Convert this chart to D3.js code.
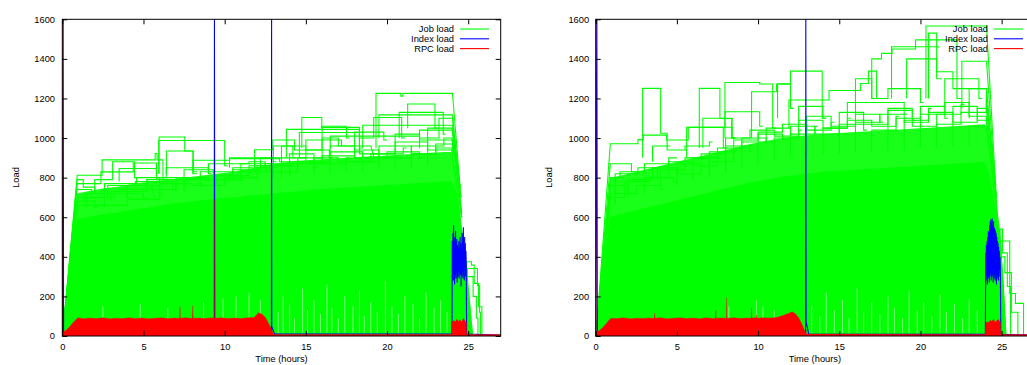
<!DOCTYPE html>
<html>
<head>
<meta charset="utf-8">
<script src="https://cdn.jsdelivr.net/npm/d3@7"></script>
<style>
  html, body { margin: 0; padding: 0; background: #fff; overflow: hidden; }
  svg { display: block; font-family: "Liberation Sans", Arial, Helvetica, sans-serif; }
</style>
</head>
<body>
<svg id="chart" width="1027" height="365"></svg>
<script>
// ---- axis ticks and legend ----
const xTicks = [0, 5, 10, 15, 20, 25];
const yTicks = [0, 200, 400, 600, 800, 1000, 1200, 1400, 1600];
const seriesNames = ["Job load", "Index load", "RPC load"];
const axisLabelX = "Time (hours)";
const axisLabelY = "Load";

// ---- run 1 (left) : job load ----
// solid core of overlapping job traces (upper boundary)
const jobCoreLeft = [[0.05,0],[0.85,590],[1.5,600],[2.5,615],[3.5,625],[4.5,640],[5.5,650],[6.5,665],[7.5,675],[8.5,685],[9.5,695],[10.5,700],[11.5,710],[12.5,715],[13.5,725],[14.5,730],[15.5,740],[16.5,745],[17.5,750],[18.5,755],[19.5,760],[20.5,765],[21.5,770],[22.5,775],[23.5,780],[23.95,780],[24.3,720],[24.7,470],[25.0,250],[25.3,0]];
// upper edge of the densely interleaved traces above the core
const jobDenseLeft = [[0.05,0],[0.88,720],[1.5,730],[2.5,745],[3.5,755],[4.5,770],[5.5,780],[6.5,790],[7.5,800],[8.5,810],[9.5,820],[10.5,830],[11.5,845],[12.5,860],[13.5,875],[14.5,885],[15.5,890],[16.5,895],[17.5,900],[18.5,905],[19.5,910],[20.5,915],[21.5,920],[22.5,925],[23.5,930],[23.95,930],[24.25,820],[24.6,560],[25.0,280],[25.3,0]];
// dense traces just above the core
const jobBandLeft = [
  [[0.05,30],[0.9,700],[3.2,720],[5.0,700],[5.2,700]],
  [[0.05,30],[0.9,680],[2.0,650],[2.2,650]],
  [[0.05,30],[0.9,740],[1.8,700],[2.8,760],[4.0,700],[4.2,700]],
  [[0.05,30],[0.9,660],[4.0,690],[6.0,720],[6.2,720]],
  [[1.5,640],[1.5,720],[3.5,740],[5.5,760],[5.7,700]],
  [[2.6,650],[2.6,770],[4.5,780],[6.8,740],[7.0,740]],
  [[3.0,680],[3.0,730],[5.2,790],[7.5,760],[7.7,760]],
  [[4.0,700],[4.0,760],[6.0,800],[8.5,770],[8.7,770]],
  [[5.0,700],[5.0,740],[7.0,790],[9.5,810],[11.0,790],[11.2,790]],
  [[6.0,720],[6.0,770],[8.0,760],[10.0,800],[12.0,820],[12.2,820]],
  [[7.0,720],[7.0,800],[9.0,790],[11.0,830],[13.0,850],[13.2,850]],
  [[7.5,720],[7.5,840],[9.3,800],[9.5,800]],
  [[8.5,750],[8.5,830],[10.5,850],[12.5,870],[14.0,860],[14.2,860]],
  [[9.5,760],[9.5,810],[11.5,860],[13.5,880],[15.5,850],[15.7,850]],
  [[10.5,780],[10.5,840],[12.2,900],[13.0,880],[13.2,880]],
  [[11.0,780],[11.0,870],[12.8,830],[14.5,900],[16.0,880],[16.2,880]],
  [[12.0,790],[12.0,860],[14.0,920],[15.5,870],[17.5,900],[17.7,900]],
  [[13.0,800],[13.0,900],[15.0,880],[16.5,930],[18.5,900],[18.7,900]],
  [[14.0,810],[14.0,870],[16.0,910],[18.0,940],[19.5,900],[19.7,900]],
  [[15.5,820],[15.5,900],[17.0,880],[19.0,920],[21.0,950],[21.2,950]],
  [[16.5,820],[16.5,960],[18.0,900],[20.0,930],[22.0,900],[22.2,900]],
  [[17.5,830],[17.5,880],[19.5,960],[21.5,920],[23.0,970],[24.0,970],[24.5,700]],
  [[18.5,830],[18.5,920],[20.5,980],[22.5,940],[24.0,940],[24.6,600]],
  [[19.5,840],[19.5,900],[21.5,960],[23.5,1000],[24.0,1000],[24.5,750]],
  [[20.5,840],[20.5,1020],[22.0,990],[24.0,990],[24.55,700]],
  [[21.5,850],[21.5,920],[23.0,950],[24.0,920],[24.6,600]],
  [[22.5,860],[22.5,1050],[24.0,1050],[24.5,750]],
  [[13.5,800],[13.5,960],[15.0,940],[16.0,1000],[17.0,960],[17.2,960]],
  [[16.0,900],[16.0,1060],[17.5,1000],[17.7,1000]],
  [[18.0,900],[18.0,1030],[19.8,990],[20.0,990]]
];
// job traces that stand out above the band
const jobStepsLeft = [
  [[0.05,30],[0.92,812],[2.45,890],[5.72,922],[5.84,890],[6.2,780],[6.4,780]],
  [[0.05,30],[0.92,790],[1.29,752],[2.0,720],[2.3,720]],
  [[0.05,30],[0.92,770],[2.38,829],[4.37,874],[5.8,800],[6.0,800]],
  [[3.5,780],[3.5,846],[5.8,790],[6.0,790]],
  [[5.96,820],[5.96,1005],[7.54,935],[8.06,830],[8.3,830]],
  [[5.94,820],[5.94,988],[10.0,860],[10.2,860]],
  [[6.41,820],[6.41,935],[8.05,820],[8.3,820]],
  [[8.05,820],[8.05,888],[10.3,896],[13.38,880],[13.6,880]],
  [[11.84,850],[11.84,941],[12.97,990],[14.3,940],[16.45,900],[16.7,900]],
  [[13.8,900],[13.8,1044],[18.3,920],[18.5,920]],
  [[14.75,950],[14.75,1104],[15.98,1054],[18.3,950],[18.5,950]],
  [[14.6,900],[14.6,1028],[18.3,1000],[19.18,1104],[20.9,1000],[21.1,1000]],
  [[19.32,950],[19.32,1226],[20.85,1212],[20.98,1226],[24.03,1226],[24.55,700]],
  [[21.27,1050],[21.27,1172],[22.95,1050],[23.1,1050]],
  [[20.75,1000],[20.75,1130],[23.46,1020],[23.6,1020]],
  [[19.5,1000],[19.5,1117],[24.03,1117],[24.5,700]],
  [[18.5,950],[18.5,1065],[24.03,1065],[24.6,600]],
  [[16.5,950],[16.5,1010],[22.0,1040],[24.03,1040],[24.6,620]],
  [[2.0,720],[2.0,790],[3.1,880],[4.45,800],[4.6,800]],
  [[10.3,850],[10.3,900],[13.0,960],[14.2,900],[14.4,900]],
  [[4.57,760],[4.57,800],[6.4,850],[9.0,820],[9.2,820]],
  [[9.0,820],[9.0,870],[11.5,880],[12.5,840],[12.7,840]],
  [[15.0,900],[15.0,990],[17.2,960],[19.0,960],[19.2,900]],
  [[22.0,950],[22.0,1000],[23.2,1100],[24.03,1100],[24.5,750]],
  [[24.9,200],[24.9,375],[25.2,358],[25.37,266],[25.63,148],[25.84,0],[25.86,0]],
  [[24.95,150],[24.95,341],[25.57,256],[25.7,120],[25.75,0],[25.76,0]],
  [[24.9,100],[24.9,300],[25.3,200],[25.5,90],[25.6,0],[25.61,0]]
];
// moments where the overlapping job traces leave low load uncovered: [time, top of the gap]
const jobGapsLeft = [[2.5,150],[4.8,160],[6.5,140],[8.7,170],[9.9,190],[10.7,200],[11.5,220],[12.2,180],[13.3,120],[13.6,200],[14.0,160],[14.3,90],[14.8,240],[15.1,130],[15.5,180],[15.9,110],[16.3,260],[16.6,140],[17.0,90],[17.4,200],[17.9,150],[18.3,230],[18.6,100],[19.0,170],[19.4,120],[19.9,280],[20.3,150],[20.7,110],[21.1,200],[21.6,160],[22.0,90],[22.4,220],[22.9,140],[23.3,180],[23.7,120]];

// ---- run 1 (left) : index load ----
const indexLeft = [[0,0],[0.05,1700],[0.08,5],[9.36,5],[9.37,1700],[9.39,5],[12.88,5],[12.89,1700],[12.9,47],[13.07,10],[24.0,10]];
const indexBurstLeft = [
  [24.02,480],[24.04,300],[24.06,520],[24.08,280],[24.10,560],[24.12,320],[24.14,500],[24.16,260],
  [24.18,470],[24.20,310],[24.22,530],[24.24,290],[24.26,450],[24.28,330],[24.30,490],[24.32,270],
  [24.34,460],[24.36,300],[24.38,440],[24.40,340],[24.42,480],[24.44,290],[24.46,430],[24.48,320],
  [24.50,500],[24.52,310],[24.54,470],[24.56,250],[24.58,440],[24.60,300],[24.62,520],[24.64,330],
  [24.66,480],[24.68,290],[24.70,550],[24.72,310],[24.74,460],[24.76,280],[24.78,500],[24.80,340],
  [24.82,470],[24.84,300],[24.86,430],[24.88,360]
];
const indexTailLeft = [[24.9,10],[27,5]];

// ---- run 1 (left) : RPC load ----
const rpcLeft = [[0,0],[0.01,1700],[0.03,20],[0.2,28],[0.4,42],[0.6,62],[0.8,80],[0.95,92],[1.3,87],[1.7,91],[2.1,88],[2.5,92],[2.9,87],[3.3,90],[3.7,88],[4.1,92],[4.5,89],[4.9,91],[5.3,87],[5.7,90],[6.1,92],[6.5,88],[6.9,91],[7.23,89],[7.25,148],[7.27,90],[7.6,92],[8.0,88],[8.03,153],[8.06,90],[8.4,91],[8.8,88],[9.2,92],[9.37,89],[9.38,690],[9.39,90],[9.8,92],[10.2,88],[10.6,91],[11.0,89],[11.4,92],[11.8,93],[12.0,110],[12.1,118],[12.3,110],[12.5,95],[12.7,65],[12.85,40],[13.0,12],[13.1,8],[23.98,8],[24.0,70],[24.1,78],[24.2,72],[24.3,85],[24.4,75],[24.5,82],[24.6,70],[24.7,90],[24.8,76],[24.88,72],[24.9,8],[27,8]];

// ---- run 2 (right) : job load ----
const jobCoreRight = [[0.05,0],[0.85,600],[1.5,615],[2.5,635],[3.5,655],[4.5,675],[5.5,695],[6.5,715],[7.5,735],[8.5,755],[9.5,775],[10.5,790],[11.5,805],[12.5,815],[14,830],[16,840],[18,850],[20,860],[22,870],[23.95,880],[24.2,830],[24.5,700],[24.9,500],[25.1,300],[25.3,0]];
const jobDenseRight = [[0.05,0],[0.88,800],[1.5,810],[2.5,830],[3.5,850],[4.5,870],[5.5,890],[6.5,910],[7.5,930],[8.5,950],[9.5,970],[10.5,985],[11.5,1000],[12.5,1010],[14,1020],[16,1030],[18,1040],[20,1050],[22,1060],[23.95,1070],[24.15,1040],[24.5,790],[24.9,540],[25.1,300],[25.3,0]];
const jobBandRight = [
  [[0.05,30],[0.9,760],[2.0,720],[2.2,720]],
  [[0.05,30],[0.9,720],[2.5,760],[4.0,740],[4.2,740]],
  [[0.05,30],[0.9,700],[1.8,780],[3.3,800],[4.8,780],[5.0,780]],
  [[1.2,660],[1.2,820],[2.6,850],[3.8,800],[4.0,800]],
  [[2.0,700],[2.0,790],[3.5,850],[5.0,820],[6.5,860],[6.7,860]],
  [[3.0,720],[3.0,800],[4.5,880],[6.0,860],[7.5,900],[7.7,900]],
  [[4.0,740],[4.0,840],[5.5,900],[7.0,880],[8.5,940],[8.7,940]],
  [[5.0,760],[5.0,870],[6.5,920],[8.0,960],[9.5,930],[9.7,930]],
  [[6.0,780],[6.0,900],[7.5,950],[9.0,1000],[10.5,980],[10.7,980]],
  [[7.0,800],[7.0,930],[8.5,990],[10.0,1020],[11.5,990],[11.7,990]],
  [[8.0,820],[8.0,1000],[9.5,1040],[11.0,1010],[12.5,1040],[12.7,1040]],
  [[9.0,850],[9.0,980],[10.5,1050],[12.0,1020],[13.5,1060],[13.7,1060]],
  [[10.0,870],[10.0,1030],[11.5,1070],[13.0,1040],[14.5,1080],[14.7,1080]],
  [[11.0,890],[11.0,1000],[12.5,1090],[14.0,1050],[15.5,1100],[15.7,1100]],
  [[12.0,900],[12.0,1060],[13.5,1020],[15.0,1070],[16.5,1040],[16.7,1040]],
  [[13.0,910],[13.0,1110],[14.5,1060],[16.0,1120],[17.5,1080],[17.7,1080]],
  [[14.0,920],[14.0,1050],[15.5,1090],[17.0,1060],[18.5,1110],[18.7,1110]],
  [[15.0,920],[15.0,1130],[16.5,1070],[18.0,1140],[19.5,1090],[19.7,1090]],
  [[16.0,930],[16.0,1080],[17.5,1120],[19.0,1080],[20.5,1150],[20.7,1150]],
  [[17.0,930],[17.0,1040],[18.5,1100],[20.0,1160],[21.5,1100],[21.7,1100]],
  [[18.0,940],[18.0,1150],[19.5,1060],[21.0,1120],[22.5,1170],[22.7,1170]],
  [[19.0,940],[19.0,1090],[20.5,1130],[22.0,1080],[23.5,1150],[24.05,1150],[24.6,750]],
  [[20.0,950],[20.0,1120],[21.5,1180],[23.0,1110],[24.05,1110],[24.6,720]],
  [[21.0,950],[21.0,1070],[22.5,1130],[24.05,1200],[24.65,760]],
  [[22.0,960],[22.0,1160],[23.5,1090],[24.05,1090],[24.6,700]],
  [[23.0,960],[23.0,1060],[24.05,1060],[24.55,760]]
];
const jobStepsRight = [
  [[0.05,30],[0.9,971],[2.6,992],[2.93,1015],[4.37,990],[5.7,1054],[7.86,950],[8.1,950]],
  [[2.89,900],[2.89,1251],[4.0,1024],[4.4,960],[4.6,960]],
  [[0.05,30],[0.9,870],[2.2,830],[2.5,830]],
  [[6.38,950],[6.38,1251],[7.65,1099],[8.37,1000],[8.6,1000]],
  [[7.96,1000],[7.96,1281],[10.1,1273],[10.9,1050],[11.1,1050]],
  [[5.6,900],[5.6,1055],[8.4,1000],[8.6,1000]],
  [[6.6,950],[6.6,1100],[8.4,1000],[8.6,1000]],
  [[9.6,1000],[9.6,1234],[11.14,1273],[12.0,1338],[13.95,1100],[14.2,1100]],
  [[7.96,1050],[7.96,1133],[10.1,1060],[10.3,1060]],
  [[11.9,1050],[11.9,1192],[14.37,1240],[16.3,1276],[16.8,1338],[17.3,1200],[17.5,1200]],
  [[17.0,1200],[17.0,1400],[17.6,1428],[18.25,1450],[19.7,1496],[22.25,1200],[22.5,1200]],
  [[20.34,1200],[20.34,1566],[24.07,1566],[24.6,800]],
  [[22.55,1150],[22.55,1388],[24.07,1388],[24.7,650]],
  [[18.22,1200],[18.22,1461],[21.0,1300],[21.3,1300]],
  [[19.15,1200],[19.15,1400],[21.0,1335],[22.0,1250],[24.07,1250],[24.75,600]],
  [[11.2,1100],[11.2,1274],[12.0,1150],[12.2,1150]],
  [[21.5,1150],[21.5,1300],[23.6,1200],[23.8,1200]],
  [[15.5,1100],[15.5,1180],[19.0,1120],[19.2,1120]],
  [[12.5,1080],[12.5,1160],[14.0,1100],[14.2,1100]],
  [[0.05,30],[0.9,800],[1.5,830],[3.0,870],[4.5,900],[5.0,900]],
  [[3.5,880],[3.5,960],[4.4,940],[5.5,960],[7.0,980],[7.2,980]],
  [[16.0,1100],[16.0,1300],[17.0,1200],[18.0,1250],[20.0,1180],[20.2,1180]],
  [[20.5,1200],[20.5,1530],[21.0,1460],[21.2,1460]],
  [[23.0,1100],[23.0,1250],[24.07,1180],[24.7,700]],
  [[24.9,300],[24.9,540],[25.05,420],[25.35,250],[25.55,0],[25.56,0]],
  [[24.95,250],[24.95,480],[25.5,215],[25.85,165],[26.35,0],[26.36,0]],
  [[24.9,200],[24.9,400],[25.2,320],[25.6,120],[26.0,0],[26.01,0]]
];
const jobGapsRight = [[8.2,150],[9.9,180],[10.3,150],[11.0,130],[13.3,150],[13.8,100],[14.2,220],[14.7,130],[15.2,180],[15.6,90],[16.1,240],[16.5,120],[17.0,170],[17.5,110],[18.0,200],[18.4,140],[18.9,90],[19.3,230],[19.8,130],[20.2,170],[20.7,100],[21.2,210],[21.6,120],[22.1,160],[22.6,90],[23.0,190],[23.5,130]];

// ---- run 2 (right) : index load ----
const indexRight = [[0,0],[0.07,1700],[0.1,5],[12.93,5],[12.94,1700],[12.96,73],[13.12,8],[24.0,8]];
const indexBurstRight = [
  [24.02,420],[24.04,280],[24.06,460],[24.08,300],[24.10,480],[24.12,260],[24.14,500],[24.16,310],
  [24.18,530],[24.20,290],[24.22,520],[24.24,270],[24.26,560],[24.28,300],[24.30,580],[24.32,320],
  [24.34,590],[24.36,280],[24.38,570],[24.40,300],[24.42,593],[24.44,310],[24.46,560],[24.48,270],
  [24.50,580],[24.52,290],[24.54,550],[24.56,320],[24.58,540],[24.60,280],[24.62,530],[24.64,300],
  [24.66,520],[24.68,260],[24.70,500],[24.72,290],[24.74,480],[24.76,310],[24.78,470],[24.80,280],
  [24.82,450],[24.84,300],[24.86,430],[24.88,330],[24.90,400],[24.92,350]
];
const indexTailRight = [[24.95,8],[27,5]];

// ---- run 2 (right) : RPC load ----
const rpcRight = [[0,0],[0.01,1700],[0.03,20],[0.2,26],[0.4,40],[0.6,58],[0.8,78],[0.95,90],[1.3,88],[1.7,92],[2.1,87],[2.5,90],[2.9,89],[3.3,91],[3.6,88],[3.63,115],[3.66,90],[4.0,92],[4.4,87],[4.8,90],[5.2,92],[5.6,88],[6.0,91],[6.4,87],[6.8,92],[7.2,89],[7.38,90],[7.4,131],[7.42,90],[7.8,91],[8.04,89],[8.06,194],[8.08,90],[8.5,92],[8.9,88],[9.3,91],[9.58,90],[9.6,143],[9.62,91],[9.88,92],[9.9,107],[9.92,90],[10.3,92],[10.8,91],[11.2,95],[11.6,106],[11.9,115],[12.1,123],[12.3,112],[12.5,92],[12.7,60],[12.85,30],[13.0,10],[23.98,8],[24.0,65],[24.1,72],[24.2,68],[24.3,80],[24.4,74],[24.5,85],[24.6,70],[24.7,78],[24.8,83],[24.92,70],[24.95,8],[27,8]];

// ---- drawing ----
const colors = { job: "#00ff00", index: "#0000ff", rpc: "#ff0000" };
const svg = d3.select("#chart");
const fontSize = 9.3;

// job traces: first and last segments are straight, the rest hold their value
function expandSteps(pts) {
  const out = [pts[0]];
  if (pts.length > 1) out.push(pts[1]);
  for (let i = 2; i < pts.length - 1; i++) {
    out.push([pts[i][0], pts[i - 1][1]]);
    out.push(pts[i]);
  }
  if (pts.length > 2) out.push(pts[pts.length - 1]);
  return out;
}

function drawPanel(p) {
  const x = d3.scaleLinear().domain([0, 27]).range([p.left, p.right]);
  const y = d3.scaleLinear().domain([0, 1600]).range([p.bottom, p.top]);
  const g = svg.append("g");
  const clipId = "clip" + p.id;
  svg.append("clipPath").attr("id", clipId)
    .append("rect").attr("x", p.left).attr("y", p.top)
    .attr("width", p.right - p.left).attr("height", p.bottom - p.top);
  const data = g.append("g").attr("clip-path", `url(#${clipId})`);

  const area = d3.area().x(d => x(d[0])).y0(y(0)).y1(d => y(d[1]));
  const line = d3.line().x(d => x(d[0])).y(d => y(d[1]));

  // job load: interleaved traces, solid core, gaps, then the individual traces
  data.append("path").datum(p.jobDense).attr("d", area)
    .attr("fill", colors.job).attr("fill-opacity", 0.9);
  data.append("path").datum(p.jobCore).attr("d", area).attr("fill", colors.job);
  data.selectAll(null).data(p.jobGaps).join("line")
    .attr("x1", d => x(d[0])).attr("x2", d => x(d[0]))
    .attr("y1", y(15)).attr("y2", d => y(d[1]))
    .attr("stroke", "#fff").attr("stroke-width", 0.8).attr("stroke-opacity", 0.6);
  data.selectAll(null).data(p.jobBand.concat(p.jobSteps)).join("path")
    .attr("d", d => line(expandSteps(d)))
    .attr("fill", "none").attr("stroke", colors.job).attr("stroke-width", 1.1);

  // index load
  data.append("path").datum(p.index.concat(p.indexBurst, p.indexTail)).attr("d", line)
    .attr("fill", "none").attr("stroke", colors.index).attr("stroke-width", 1.1);

  // RPC load
  data.append("path").datum(p.rpc).attr("d", area).attr("fill", colors.rpc);
  data.append("path").datum(p.rpc).attr("d", line)
    .attr("fill", "none").attr("stroke", colors.rpc).attr("stroke-width", 1)
    .attr("stroke-opacity", 0.3);

  // axes with inward ticks on all four sides
  const tick = 5;
  const fmt = d3.format("d");
  const bottomAxis = d3.axisBottom(x).tickValues(xTicks).tickFormat(fmt).tickSize(-tick).tickSizeOuter(0).tickPadding(7.4);
  const topAxis = d3.axisTop(x).tickValues(xTicks).tickSize(-tick).tickSizeOuter(0).tickFormat("");
  const leftAxis = d3.axisLeft(y).tickValues(yTicks).tickFormat(fmt).tickSize(-tick).tickSizeOuter(0).tickPadding(p.yPad);
  const rightAxis = d3.axisRight(y).tickValues(yTicks).tickSize(-tick).tickSizeOuter(0).tickFormat("");

  const axes = [
    [bottomAxis, `translate(0,${p.bottom})`],
    [topAxis, `translate(0,${p.top})`],
    [leftAxis, `translate(${p.left},0)`],
    [rightAxis, `translate(${p.right},0)`]
  ];
  axes.forEach(([ax, tr]) => {
    const a = g.append("g").attr("transform", tr).call(ax);
    a.select(".domain").remove();
    a.selectAll("line").attr("stroke", "#000").attr("stroke-width", 1);
    a.selectAll("text").attr("fill", "#000").style("font-size", fontSize + "px")
      .style("font-family", '"Liberation Sans", Arial, sans-serif');
  });

  g.append("rect").attr("x", p.left).attr("y", p.top)
    .attr("width", p.right - p.left).attr("height", p.bottom - p.top)
    .attr("fill", "none").attr("stroke", "#000").attr("stroke-width", 1);

  // axis titles
  g.append("text").attr("x", (p.left + p.right) / 2).attr("y", 361.5)
    .attr("text-anchor", "middle").style("font-size", fontSize + "px").text(axisLabelX);
  g.append("text").attr("transform", `translate(${p.yLabelX},177.5) rotate(-90)`)
    .attr("text-anchor", "middle").style("font-size", fontSize + "px").text(axisLabelY);

  // legend
  const legColors = [colors.job, colors.index, colors.rpc];
  seriesNames.forEach((name, i) => {
    const cy = 29 + i * 9.8;
    g.append("text").attr("x", p.legendTextX).attr("y", cy + 3.3)
      .attr("text-anchor", "end").style("font-size", fontSize + "px").text(name);
    g.append("line").attr("x1", p.legendTextX + 6).attr("x2", p.legendTextX + 35)
      .attr("y1", cy).attr("y2", cy).attr("stroke", legColors[i]).attr("stroke-width", 1.1);
  });
}

drawPanel({
  id: "L", left: 62.3, right: 500.7, top: 19.3, bottom: 336, yPad: 7.3,
  yLabelX: 18.5, legendTextX: 454,
  jobCore: jobCoreLeft, jobDense: jobDenseLeft, jobBand: jobBandLeft, jobSteps: jobStepsLeft, jobGaps: jobGapsLeft,
  index: indexLeft, indexBurst: indexBurstLeft, indexTail: indexTailLeft, rpc: rpcLeft
});
drawPanel({
  id: "R", left: 595.7, right: 1034.1, top: 19.3, bottom: 336, yPad: 6.6,
  yLabelX: 552, legendTextX: 988,
  jobCore: jobCoreRight, jobDense: jobDenseRight, jobBand: jobBandRight, jobSteps: jobStepsRight, jobGaps: jobGapsRight,
  index: indexRight, indexBurst: indexBurstRight, indexTail: indexTailRight, rpc: rpcRight
});
</script>
</body>
</html>
